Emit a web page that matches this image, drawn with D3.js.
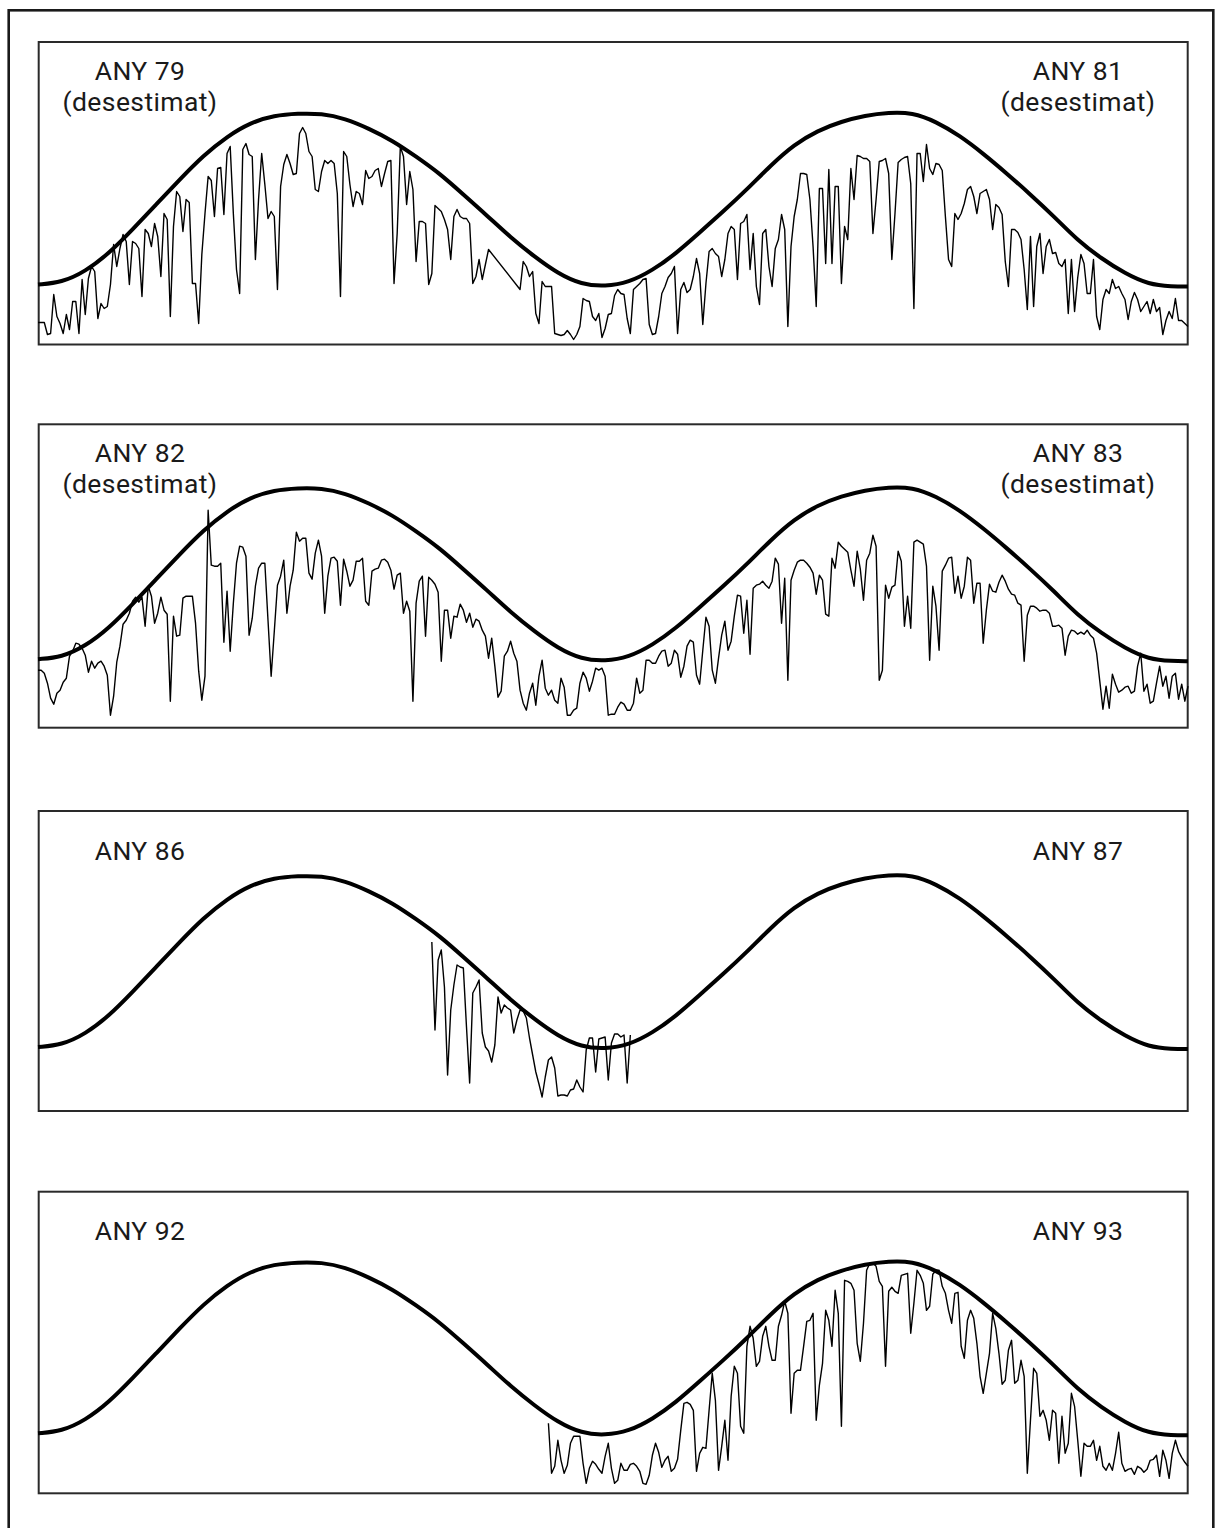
<!DOCTYPE html>
<html>
<head>
<meta charset="utf-8">
<script src="https://cdn.jsdelivr.net/npm/d3@7"></script>
<style>
  body { margin: 0; background: #fff; }
  .etiqueta { font-family: Roboto, "Liberation Sans", sans-serif; font-weight: 400; font-size: 26.5px; letter-spacing: 0.4px; fill: #1a1a1a; }
</style>
</head>
<body>
<svg id="grafic" width="1218" height="1528"></svg>
<script>
const width = 1218, height = 1528

// radiacio diaria (unitats relatives), un valor cada 2 dies, 2 anys per panell
const diesEnvolupant = d3.range(0, 721, 15).concat([730])
const envolupant = [60,62,73,91,115,140,165,189,208,222,229,231,231,226,216,204,188,171,150,129,
  107,88,71,60,58,62,74,91,112,133,155,179,200,214,223,229,232,232,223,209,
  191,171,150,128,104,86,71,60,58,58]

const dades7981 = [
  22,22,22,10,11,50,28,21,11,30, 15,43,43,11,65,30,66,78,73,26,
  41,36,38,60,100,78,96,110,103,60, 103,101,96,48,115,111,98,121,108,68,
  131,125,28,118,153,148,113,145,142,61, 61,21,90,131,168,164,128,176,177,130,
  191,198,131,75,51,195,201,190,188,85, 145,191,160,126,133,128,55,158,180,190,
  181,170,171,211,217,211,193,188,155,153, 173,184,181,184,181,151,48,193,188,160,
  138,153,151,140,174,166,168,174,176,158, 171,183,184,61,111,198,188,140,173,155,
  83,123,123,121,60,71,139,136,133,125, 115,85,128,135,128,126,126,121,61,68,
  85,65,80,95,null,null,null,null,null,null, null,null,null,55,83,78,68,73,31,21,
  63,58,58,58,11,10,9,10,14,10, 5,10,18,46,44,43,28,24,31,7,
  16,30,31,49,55,51,50,26,11,55, 58,61,65,66,20,10,11,28,51,58,
  67,71,78,11,55,62,52,55,68,86, 71,20,61,93,96,91,88,68,85,111,
  118,115,65,121,123,130,75,111,58,40, 111,115,78,58,96,105,130,115,18,98,
  128,145,171,171,170,145,98,38,156,156, 81,175,81,158,158,61,118,105,176,145,
  189,188,186,186,183,111,145,183,184,186, 171,85,131,182,185,187,188,161,36,191,
  191,163,200,176,170,181,180,174,128,85, 78,131,125,131,141,155,158,148,131,151,
  153,155,145,115,140,137,130,83,58,115, 115,112,105,75,35,108,38,98,111,71,
  98,105,91,92,81,78,85,31,85,33, 67,90,81,51,51,85,28,15,45,55,
  51,65,56,58,51,45,25,43,52,45, 33,38,43,31,45,33,37,10,24,33,
  26,46,24,24,21,18]

const dades8283 = [
  49,49,46,36,21,15,26,29,37,41, 63,68,76,75,71,64,47,58,51,56,
  58,53,44,4,23,57,73,95,99,106, 118,122,117,122,93,133,123,96,106,122,
  109,105,18,103,83,84,121,123,123,123, 96,48,19,43,209,154,153,153,156,77,
  128,68,116,156,173,172,163,84,101,133, 151,156,156,99,43,88,134,143,159,106,
  133,149,187,178,181,181,146,140,166,179, 163,106,143,161,162,158,114,160,148,133,
  139,158,158,161,118,114,148,150,151,159, 160,157,149,130,144,146,106,118,108,18,
  116,138,143,83,142,139,135,127,58,109, 109,81,103,102,115,109,97,106,92,100,
  98,89,83,61,81,53,22,28,63,68, 78,66,58,29,16,9,26,36,14,43,
  59,31,24,29,19,16,41,32,4,4, 9,11,36,47,41,28,38,51,49,51,
  43,4,5,5,12,17,15,9,9,16, 41,26,29,59,59,56,56,63,68,69,
  53,56,69,65,42,53,73,79,77,44, 35,69,102,93,49,36,61,84,98,69,
  78,103,124,123,86,119,65,131,134,135, 138,134,131,138,161,155,96,141,39,139,
  149,157,159,159,156,152,146,125,144,139, 105,103,161,151,177,173,170,167,149,133,
  168,150,119,159,166,184,173,39,49,134, 121,132,134,168,158,93,123,91,177,179,
  177,175,153,59,133,113,69,148,154,161, 162,126,143,121,133,162,159,116,136,136,
  76,109,135,128,127,137,144,138,130,125, 124,116,114,58,104,113,113,111,108,109,
  109,106,93,93,94,91,64,83,89,88, 85,87,85,89,84,81,66,38,10,33,
  11,45,35,27,29,32,33,26,28,53, 66,28,35,16,18,36,53,33,43,21,
  43,46,20,35,18,33]

// any 86: dades a partir del dia 250
const inici8687 = 250
const dades8687 = [
  165,77,147,157,120,32,97,122,142,140, 139,80,24,114,120,127,74,60,56,45,
  62,110,94,102,99,97,74,87,97,96, 89,69,52,35,23,10,30,47,50,39,
  11,12,12,11,17,18,27,20,15,57, 69,69,35,68,69,70,27,64,73,73,
  70,72,24,72]

// any 92: dades a partir del dia 324
const inici9293 = 324
const dades9293 = [
  70,20,27,53,33,20,28,50,57,57, 57,30,10,25,32,29,24,20,37,50,
  25,10,13,30,23,23,29,30,27,22, 10,9,18,38,50,41,26,33,37,22,
  25,34,63,90,91,89,83,22,40,46, 45,83,120,93,23,47,73,33,97,127,
  120,67,60,147,167,155,127,132,157,167, 147,133,133,167,178,192,180,80,120,123,
  123,147,172,173,180,73,108,130,183,173, 147,203,180,67,213,212,210,203,150,132,
  170,223,230,230,227,212,207,127,202,206, 202,200,218,219,220,160,190,223,218,210,
  183,187,219,223,223,207,200,183,170,200, 201,147,135,173,183,175,150,117,100,120,
  140,180,165,140,109,113,143,153,110,113, 133,117,20,73,125,120,77,83,73,53,
  83,80,30,77,40,50,100,87,53,17, 50,47,47,53,33,47,27,23,30,23,
  40,61,30,22,24,25,19,27,25,21, 24,33,34,38,17,43,33,15,40,53,
  42,36,31,27]

const panells = [
  {esq: ["ANY 79", "(desestimat)"], dre: ["ANY 81", "(desestimat)"], dades: dades7981, inici: 0,
   dalt: 42, baix: 344.5, base: 344.5},
  {esq: ["ANY 82", "(desestimat)"], dre: ["ANY 83", "(desestimat)"], dades: dades8283, inici: 0,
   dalt: 424.3, baix: 727.7, base: 719.2},
  {esq: ["ANY 86"], dre: ["ANY 87"], dades: dades8687, inici: inici8687,
   dalt: 811, baix: 1111, base: 1107},
  {esq: ["ANY 92"], dre: ["ANY 93"], dades: dades9293, inici: inici9293,
   dalt: 1191.7, baix: 1493.3, base: 1493.3}
]

const svg = d3.select('#grafic')

svg.append('rect')
  .attr('x', 8.7).attr('y', 10.3)
  .attr('width', 1204.6).attr('height', 1560)
  .attr('fill', 'none')
  .attr('stroke', '#1a1a1a')
  .attr('stroke-width', 2.6)

const x = d3.scaleLinear().domain([0, 730]).range([38, 1188])

panells.forEach(p => {
  const g = svg.append('g')
  const y = d3.scaleLinear().domain([0, 300]).range([p.base, p.base - 300])

  g.append('rect')
    .attr('x', 38.7).attr('y', p.dalt)
    .attr('width', 1149).attr('height', p.baix - p.dalt)
    .attr('fill', 'none')
    .attr('stroke', '#2a2a2a')
    .attr('stroke-width', 2)

  const punts = p.dades
    .map((v, i) => ({dia: p.inici + i * 2, v}))
    .filter(d => d.v != null)

  g.append('path')
    .datum(punts)
    .attr('d', d3.line().x(d => x(d.dia)).y(d => y(d.v)))
    .attr('fill', 'none')
    .attr('stroke', '#000')
    .attr('stroke-width', 1.4)
    .attr('stroke-linejoin', 'round')

  g.append('path')
    .datum(envolupant.map((v, i) => ({dia: diesEnvolupant[i], v})))
    .attr('d', d3.line().curve(d3.curveBasis).x(d => x(d.dia)).y(d => y(d.v)))
    .attr('fill', 'none')
    .attr('stroke', '#000')
    .attr('stroke-width', 4)

  const dosLinies = p.esq.length > 1
  const linia0 = dosLinies ? p.dalt + 38 : p.dalt + 48.5
  ;[[p.esq, 140], [p.dre, 1078]].forEach(([textos, cx]) => {
    g.selectAll(null)
      .data(textos)
      .join('text')
      .classed('etiqueta', true)
      .attr('x', cx)
      .attr('y', (d, i) => linia0 + i * 31)
      .attr('text-anchor', 'middle')
      .text(d => d)
  })
})
</script>
</body>
</html>
